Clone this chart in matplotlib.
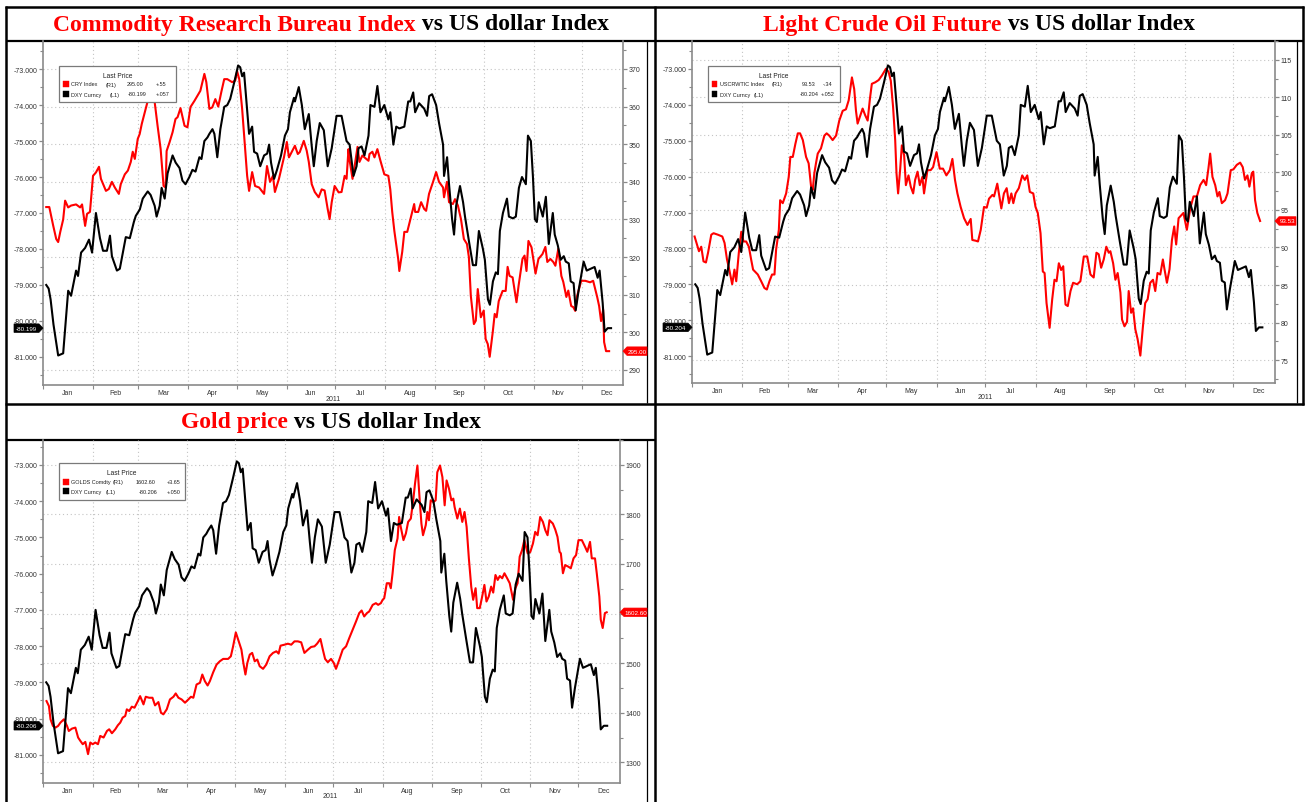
import matplotlib
matplotlib.use("Agg")
import matplotlib.pyplot as plt
from matplotlib.patches import Polygon, Rectangle
from matplotlib.lines import Line2D

plt.rcParams['font.family'] = ['Liberation Sans', 'DejaVu Sans']
plt.rcParams['axes.unicode_minus'] = False

W, H = 1305, 803

# ---------------- data (day of year 2011, Jan 1 = 0) ----------------
month_labels = ["Jan", "Feb", "Mar", "Apr", "May", "Jun",
                "Jul", "Aug", "Sep", "Oct", "Nov", "Dec"]
month_starts = [0, 31, 59, 90, 120, 151, 181, 212, 243, 273, 304, 334]
year_label = "2011"

dxy_ticks = [-73, -74, -75, -76, -77, -78, -79, -80, -81]

# DXY Curncy plotted as negative value (left axis)
dxy = [
    (2.0, -79.00), (3.5, -79.10), (4.7, -79.40), (6.5, -80.10), (9.4, -80.96), (12.5, -80.90),
    (15.6, -79.16), (17.4, -79.30), (20.5, -78.60), (21.7, -78.75), (23.6, -78.10),
    (26.1, -77.97), (28.5, -77.74), (30.4, -78.10), (32.8, -77.00), (35.3, -77.70),
    (37.2, -78.05), (39.6, -78.05), (41.5, -77.63), (42.7, -78.20), (45.8, -78.60),
    (47.6, -78.55), (51.3, -77.67), (53.8, -77.70), (56.3, -77.25), (57.5, -77.08),
    (60.0, -76.90), (61.8, -76.60), (64.9, -76.40), (66.7, -76.50), (69.2, -76.80),
    (70.4, -77.10), (72.3, -76.80), (73.5, -76.30), (75.4, -76.60), (77.2, -75.90),
    (80.3, -75.40), (82.2, -75.60), (84.6, -75.75), (86.4, -76.10), (88.3, -76.20),
    (90.7, -76.00), (92.6, -75.80), (94.5, -75.85), (96.9, -75.45), (98.2, -75.50),
    (100.0, -75.00), (101.9, -74.90), (103.1, -74.80), (105.0, -74.67), (106.2, -74.80),
    (108.0, -75.45), (109.9, -74.67), (112.3, -74.05), (114.2, -74.00), (116.0, -73.83),
    (118.5, -73.37), (120.9, -72.90), (122.2, -72.95), (123.4, -73.20), (124.6, -73.10),
    (125.9, -73.80), (127.7, -74.80), (129.6, -74.60), (130.8, -75.30), (132.7, -75.35),
    (134.6, -75.70), (137.0, -75.40), (138.9, -75.35), (140.1, -75.10), (141.3, -75.60),
    (143.2, -76.05), (145.0, -75.80), (147.5, -75.40), (149.9, -74.85), (151.8, -74.67),
    (153.0, -74.20), (155.5, -73.80), (156.1, -73.90), (158.5, -73.50), (160.4, -74.00),
    (162.2, -74.67), (164.7, -74.25), (166.5, -75.13), (167.8, -75.70), (169.6, -75.00),
    (171.5, -74.50), (174.0, -74.70), (176.4, -75.70), (178.9, -75.20), (181.9, -74.30),
    (185.0, -74.30), (188.1, -75.00), (190.0, -75.10), (192.4, -75.97), (194.3, -75.70),
    (195.5, -75.20), (197.4, -75.15), (199.2, -75.40), (201.7, -74.85), (202.9, -74.00),
    (205.4, -74.05), (207.2, -73.47), (209.1, -74.20), (211.5, -74.00), (214.0, -74.40),
    (215.2, -74.20), (217.1, -75.10), (218.9, -74.60), (220.8, -74.65), (223.9, -74.60),
    (226.3, -73.90), (227.6, -73.90), (229.4, -73.65), (230.6, -74.20), (233.1, -73.95),
    (236.2, -74.10), (238.0, -74.30), (239.3, -73.75), (241.1, -73.70), (243.6, -74.00),
    (245.4, -74.50), (247.9, -75.10), (248.5, -75.97), (250.4, -75.45), (251.6, -76.20),
    (253.5, -77.17), (254.7, -77.60), (256.0, -76.80), (258.4, -76.25), (260.3, -76.70),
    (261.5, -77.10), (264.0, -77.80), (266.4, -78.45), (268.3, -78.45), (270.1, -77.50),
    (272.6, -78.00), (273.8, -78.30), (275.7, -79.40), (276.9, -79.55), (278.8, -78.90),
    (280.6, -78.65), (281.9, -78.70), (283.1, -77.50), (285.0, -77.00), (287.5, -76.60),
    (288.7, -77.10), (291.2, -77.15), (293.0, -77.10), (294.9, -76.30), (296.8, -76.00),
    (298.0, -76.10), (299.2, -76.20), (300.5, -74.85), (302.3, -75.00), (303.6, -76.00),
    (304.8, -77.17), (306.0, -77.25), (307.2, -76.70), (309.7, -77.10), (311.6, -76.55),
    (313.4, -77.86), (315.9, -77.00), (317.1, -77.60), (319.0, -77.90), (320.8, -78.30),
    (322.7, -78.20), (323.9, -78.35), (325.8, -78.40), (327.0, -78.90), (328.8, -78.95),
    (330.1, -79.70), (331.9, -79.15), (333.8, -78.65), (335.0, -78.35), (336.9, -78.60),
    (339.4, -78.55), (341.8, -78.50), (343.7, -78.80), (344.9, -78.60), (346.8, -79.50),
    (348.0, -80.30), (349.9, -80.20), (352.0, -80.20),
]

# CRY Index (right axis, panel 1)
cry = [
    (2.0, 333.3), (3.9, 333.3), (5.7, 329.6), (6.3, 328.4), (8.2, 324.8), (9.4, 324.0),
    (10.7, 326.7), (12.5, 330.0), (13.7, 335.0), (15.6, 333.2), (17.4, 333.7), (20.5, 334.0),
    (23.0, 333.2), (24.2, 334.0), (26.1, 328.3), (27.3, 331.5), (29.1, 332.0), (31.0, 341.6),
    (32.8, 342.5), (34.7, 344.0), (35.9, 340.8), (39.0, 337.6), (40.8, 338.1), (42.7, 340.0),
    (44.5, 338.5), (47.0, 336.8), (48.2, 339.4), (50.7, 342.0), (52.6, 343.0), (54.4, 345.3),
    (55.6, 348.0), (56.9, 346.1), (58.7, 351.4), (59.9, 352.7), (61.2, 355.4), (63.6, 359.4),
    (65.5, 362.5), (67.3, 363.4), (69.2, 361.2), (71.0, 354.9), (72.9, 348.7), (74.7, 338.9),
    (76.0, 338.5), (76.6, 348.2), (78.4, 350.5), (80.3, 353.2), (82.1, 356.7), (83.4, 357.2),
    (85.2, 359.6), (87.7, 354.9), (89.5, 354.5), (91.4, 359.9), (93.8, 361.5), (95.7, 362.9),
    (97.5, 364.2), (100.0, 368.7), (101.2, 366.5), (103.1, 359.4), (104.9, 359.8), (106.8, 362.0),
    (108.6, 360.0), (110.5, 363.9), (112.3, 367.3), (114.2, 367.3), (117.2, 366.5), (119.1, 366.9),
    (120.3, 369.4), (121.6, 367.3), (123.4, 359.4), (125.3, 348.7), (126.5, 341.6), (127.7, 337.6),
    (129.6, 342.6), (131.4, 338.9), (133.9, 338.5), (137.0, 336.8), (138.8, 344.2), (140.7, 340.0),
    (142.5, 341.6), (143.7, 337.3), (146.2, 340.8), (149.3, 346.5), (151.1, 350.6), (152.4, 346.5),
    (154.2, 348.0), (156.1, 349.6), (157.9, 347.4), (159.1, 347.9), (161.6, 350.9), (163.4, 348.3),
    (164.7, 345.3), (166.5, 339.4), (168.4, 337.3), (170.8, 335.9), (172.7, 338.0), (174.5, 337.7),
    (176.4, 332.8), (177.6, 330.1), (178.9, 334.6), (180.7, 338.9), (183.2, 337.2), (185.0, 337.3),
    (186.9, 341.6), (188.1, 340.8), (189.3, 348.7), (189.9, 346.0), (191.8, 340.8), (193.0, 343.9),
    (194.9, 349.3), (196.1, 345.3), (197.9, 347.0), (199.2, 346.5), (201.7, 345.6), (202.3, 347.4),
    (204.1, 348.0), (205.4, 346.5), (207.2, 348.7), (209.1, 345.6), (211.5, 342.0), (214.0, 341.6),
    (215.2, 338.0), (216.4, 332.0), (217.7, 327.0), (220.1, 319.5), (220.8, 316.3), (222.6, 321.4),
    (223.9, 326.7), (225.7, 326.7), (228.2, 331.0), (230.0, 334.1), (230.6, 332.0), (232.5, 332.0),
    (234.3, 334.6), (236.2, 332.8), (237.4, 332.3), (239.2, 336.8), (241.7, 340.0), (243.6, 342.6),
    (245.4, 340.0), (247.9, 338.5), (248.5, 335.9), (250.3, 340.0), (251.6, 334.6), (254.0, 334.1),
    (255.3, 335.4), (257.1, 333.7), (259.0, 330.1), (260.8, 324.8), (262.7, 323.5), (263.9, 320.0),
    (265.1, 309.7), (267.0, 302.2), (268.2, 303.1), (269.4, 311.5), (271.3, 304.0), (273.1, 305.8),
    (274.3, 298.2), (275.6, 296.9), (276.8, 293.5), (278.7, 300.1), (279.9, 304.9), (281.1, 304.0),
    (282.4, 308.3), (284.8, 311.0), (286.7, 311.0), (287.9, 317.4), (289.1, 315.0), (291.0, 314.6),
    (293.4, 308.0), (294.7, 312.4), (297.1, 319.5), (298.4, 320.4), (299.6, 316.3), (300.8, 324.3),
    (302.7, 322.6), (305.2, 315.6), (307.0, 319.5), (309.5, 320.8), (311.3, 322.7), (312.5, 318.7),
    (314.4, 319.5), (316.2, 318.7), (317.5, 317.7), (319.3, 322.2), (321.2, 315.0), (322.4, 313.4),
    (324.3, 309.4), (325.5, 311.1), (327.3, 307.0), (328.6, 306.7), (329.8, 305.7), (331.0, 309.7),
    (333.5, 313.7), (336.0, 313.7), (339.0, 313.3), (340.9, 313.7), (343.4, 309.4), (344.6, 307.0),
    (345.8, 303.0), (347.1, 306.0), (347.7, 297.4), (348.9, 295.0), (350.8, 295.0),
]
cry_ticks = [290, 300, 310, 320, 330, 340, 350, 360, 370]

# USCRWTIC Index (right axis, panel 2)
wti = [
    (1.6, 91.46), (4.3, 89.5), (5.7, 90.1), (7.1, 88.15), (8.6, 88.0), (9.9, 89.3), (11.9, 91.7),
    (13.3, 91.9), (16.0, 91.7), (18.7, 91.46), (20.1, 90.6), (21.6, 88.4), (23.0, 87.05), (24.8, 85.1),
    (26.2, 87.05), (27.3, 85.5), (28.9, 89.3), (30.4, 92.1), (31.8, 90.8), (33.4, 90.8), (35.1, 90.1),
    (36.5, 88.4), (37.7, 87.05), (40.6, 86.4), (42.7, 85.5), (44.7, 84.6), (46.2, 84.4), (47.8, 85.5),
    (49.4, 86.4), (50.9, 86.4), (51.9, 89.7), (53.6, 92.35), (54.4, 96.3), (56.0, 95.9), (58.1, 97.2),
    (59.7, 99.4), (60.7, 102.06), (62.2, 102.06), (63.8, 103.8), (65.3, 105.2), (66.7, 105.2),
    (68.4, 104.3), (70.4, 102.06), (72.0, 101.2), (73.5, 98.1), (74.5, 97.65), (75.5, 99.86),
    (76.5, 101.2), (77.6, 102.5), (79.6, 103.2), (81.7, 104.9), (83.1, 105.2), (84.7, 104.9),
    (86.8, 104.3), (88.9, 104.9), (90.9, 106.9), (93.0, 108.2), (95.0, 108.4), (96.7, 109.6),
    (98.7, 112.65), (100.1, 111.1), (101.2, 108.2), (102.2, 106.5), (103.6, 107.4), (105.3, 108.5),
    (106.9, 107.6), (108.4, 106.9), (109.8, 109.8), (111.0, 111.8), (113.1, 112.0), (115.2, 112.3),
    (117.2, 112.9), (119.7, 113.8), (121.3, 113.4), (122.7, 112.2), (124.1, 108.7), (125.4, 104.3),
    (126.2, 99.9), (127.2, 97.2), (128.5, 100.5), (129.5, 103.6), (130.9, 102.3), (132.0, 98.3),
    (133.6, 99.6), (135.0, 98.1), (136.5, 97.2), (137.7, 99.0), (139.2, 100.1), (140.6, 98.3),
    (142.2, 99.4), (143.2, 97.2), (145.3, 100.3), (147.3, 100.3), (148.8, 100.7), (150.9, 102.7),
    (152.9, 100.5), (154.9, 100.5), (157.0, 99.6), (159.1, 100.3), (160.7, 101.8), (162.3, 99.0),
    (163.8, 97.2), (165.8, 95.4), (167.9, 93.9), (170.0, 93.0), (172.0, 93.8), (173.0, 91.0),
    (175.1, 90.9), (176.5, 90.8), (178.2, 92.35), (180.2, 95.4), (181.9, 95.3), (183.3, 96.5),
    (185.4, 97.0), (186.4, 96.8), (188.4, 98.5), (189.4, 97.2), (190.9, 95.2), (192.5, 97.2),
    (194.2, 97.9), (195.6, 95.9), (197.1, 97.2), (198.3, 95.9), (199.7, 97.2), (201.7, 97.9),
    (203.8, 99.6), (205.4, 99.0), (206.9, 99.6), (208.5, 97.4), (210.6, 97.2), (212.0, 95.4),
    (213.4, 94.6), (215.1, 91.9), (216.5, 86.8), (217.6, 86.6), (218.8, 82.6), (220.7, 79.3),
    (222.3, 83.1), (223.7, 85.7), (225.0, 85.5), (226.4, 87.9), (227.8, 87.0), (229.1, 87.5),
    (230.5, 82.4), (231.9, 82.2), (233.6, 84.2), (235.2, 85.3), (237.7, 85.1), (239.7, 85.5),
    (241.8, 88.8), (243.9, 88.8), (245.9, 86.4), (247.9, 86.0), (249.6, 89.3), (251.0, 89.1),
    (252.5, 87.3), (254.1, 88.4), (255.7, 90.1), (257.2, 89.3), (258.2, 89.5), (259.9, 87.9),
    (261.3, 85.7), (262.7, 86.6), (264.4, 84.0), (265.4, 80.4), (266.9, 79.5), (268.5, 80.1),
    (269.5, 84.2), (271.0, 81.3), (272.2, 81.9), (273.6, 79.1), (275.0, 77.8), (276.7, 75.6),
    (278.3, 79.5), (279.7, 82.6), (281.2, 83.1), (282.8, 85.3), (284.5, 85.7), (285.9, 84.2),
    (287.3, 86.6), (289.0, 86.4), (290.6, 88.4), (291.6, 87.1), (293.1, 85.3), (294.7, 87.1),
    (296.2, 91.0), (297.6, 92.8), (298.8, 90.4), (300.3, 93.9), (303.3, 94.6), (305.4, 92.35),
    (307.5, 95.2), (309.5, 96.8), (311.6, 96.8), (313.6, 98.3), (315.7, 99.0), (317.3, 98.3),
    (318.7, 100.5), (319.8, 102.5), (321.2, 99.4), (322.9, 98.3), (324.3, 96.8), (325.5, 97.4),
    (327.0, 95.9), (329.0, 96.3), (330.5, 97.2), (332.5, 100.3), (334.1, 100.4), (336.2, 101.0),
    (338.3, 101.3), (339.9, 100.7), (341.3, 99.0), (342.8, 99.6), (344.0, 98.1), (345.5, 99.9),
    (346.4, 100.1), (347.5, 96.3), (348.9, 94.6), (350.6, 93.53),
]
wti_ticks = [75, 80, 85, 90, 95, 100, 105, 110, 115]

# GOLDS Comdty (right axis, panel 3)
gold = [
    (2.2, 1423.6), (3.7, 1413.5), (4.7, 1386.8), (6.2, 1373.4), (7.8, 1370.1), (9.4, 1373.4),
    (10.9, 1380.2), (13.0, 1386.8), (15.0, 1373.4), (16.1, 1363.3), (18.1, 1368.1), (20.2, 1370.1),
    (21.9, 1350.1), (23.3, 1343.3), (24.8, 1336.6), (26.4, 1341.3), (28.1, 1316.6), (29.5, 1340.0),
    (31.0, 1336.6), (32.6, 1340.0), (34.3, 1336.6), (35.7, 1353.3), (37.8, 1350.1), (39.9, 1363.3),
    (41.3, 1366.7), (43.0, 1358.7), (45.1, 1366.7), (46.7, 1374.8), (48.2, 1380.2), (49.7, 1390.2),
    (51.3, 1393.5), (52.3, 1406.9), (53.8, 1403.5), (55.4, 1412.3), (57.1, 1410.2), (59.2, 1423.6),
    (60.6, 1433.6), (62.7, 1416.9), (64.1, 1432.3), (66.2, 1430.3), (68.3, 1430.3), (69.9, 1414.9),
    (72.0, 1421.6), (73.6, 1400.2), (75.1, 1396.8), (77.2, 1406.9), (79.2, 1426.9), (81.4, 1432.3),
    (82.8, 1439.0), (84.5, 1430.3), (86.5, 1426.9), (88.6, 1420.3), (90.7, 1426.9), (92.3, 1432.3),
    (93.8, 1430.3), (95.8, 1457.0), (97.9, 1460.4), (99.4, 1477.1), (101.0, 1463.7), (102.7, 1455.0),
    (104.1, 1463.7), (106.2, 1481.8), (108.3, 1497.2), (110.3, 1503.8), (112.4, 1508.6), (115.5, 1508.6),
    (117.2, 1513.9), (118.6, 1533.9), (120.3, 1562.0), (122.1, 1544.0), (123.8, 1527.3), (125.0, 1500.6),
    (126.3, 1477.1), (127.5, 1500.6), (129.0, 1517.3), (130.5, 1520.7), (132.1, 1503.8), (133.7, 1507.3),
    (135.2, 1493.8), (137.3, 1488.6), (139.3, 1497.2), (141.4, 1513.9), (143.5, 1520.7), (145.6, 1524.0),
    (147.0, 1519.3), (148.2, 1535.3), (150.7, 1537.3), (152.8, 1539.3), (154.9, 1537.3), (156.9, 1544.0),
    (159.0, 1544.0), (161.1, 1542.0), (163.1, 1520.7), (165.3, 1527.3), (167.3, 1532.7), (169.4, 1534.0),
    (171.0, 1539.3), (173.1, 1548.8), (174.6, 1527.3), (176.0, 1508.6), (177.7, 1501.9), (179.7, 1508.6),
    (181.4, 1500.6), (182.8, 1488.6), (184.9, 1507.3), (187.0, 1527.3), (189.1, 1534.0), (191.1, 1550.8),
    (193.2, 1567.4), (195.3, 1584.1), (197.3, 1601.0), (198.8, 1606.2), (200.4, 1594.2), (202.1, 1601.0),
    (203.5, 1604.2), (205.7, 1617.6), (207.7, 1621.0), (209.1, 1617.6), (210.8, 1621.0), (211.9, 1627.7),
    (212.9, 1631.0), (214.5, 1661.2), (216.0, 1661.2), (217.0, 1651.1), (218.1, 1681.3), (219.5, 1728.0),
    (221.2, 1751.5), (222.2, 1794.8), (223.2, 1774.8), (224.9, 1748.1), (226.4, 1761.5), (227.8, 1784.8),
    (229.5, 1791.6), (231.1, 1831.8), (232.1, 1861.9), (233.6, 1898.6), (234.9, 1835.0), (236.1, 1781.5),
    (237.1, 1758.0), (238.8, 1778.2), (239.8, 1804.9), (240.8, 1788.2), (241.9, 1828.4), (243.6, 1825.0),
    (245.0, 1828.4), (246.0, 1885.1), (247.7, 1898.6), (249.2, 1875.1), (250.6, 1818.3), (251.8, 1868.5),
    (253.3, 1851.8), (254.8, 1828.4), (256.0, 1831.8), (256.8, 1814.9), (258.5, 1791.6), (260.1, 1811.7),
    (261.6, 1784.8), (263.0, 1804.9), (264.3, 1774.8), (265.7, 1711.3), (267.2, 1653.7), (268.4, 1627.7),
    (269.9, 1651.1), (270.9, 1611.0), (272.5, 1611.0), (274.0, 1634.3), (275.4, 1657.8), (276.7, 1624.3),
    (278.1, 1634.3), (279.6, 1654.4), (280.9, 1642.3), (282.3, 1677.8), (283.7, 1667.8), (285.0, 1675.8),
    (286.5, 1671.2), (287.9, 1681.3), (289.6, 1671.2), (291.2, 1661.2), (293.3, 1627.7), (294.7, 1651.1),
    (296.1, 1661.2), (297.4, 1714.6), (298.9, 1728.0), (300.3, 1748.1), (302.4, 1721.4), (304.0, 1724.0),
    (305.7, 1741.4), (307.1, 1764.8), (308.6, 1758.0), (310.2, 1794.8), (311.9, 1784.8), (313.4, 1768.1),
    (314.8, 1758.0), (316.0, 1788.2), (318.1, 1781.5), (319.6, 1769.5), (321.0, 1754.7), (322.3, 1724.6),
    (323.1, 1721.4), (324.4, 1681.3), (325.8, 1697.9), (327.8, 1694.5), (329.3, 1691.3), (331.0, 1711.3),
    (332.6, 1718.0), (334.1, 1748.1), (336.2, 1748.1), (338.2, 1734.7), (339.6, 1724.6), (341.3, 1744.6),
    (342.4, 1711.3), (344.4, 1711.3), (345.5, 1681.3), (347.1, 1634.3), (348.0, 1587.5), (349.2, 1570.9),
    (350.6, 1601.0), (351.7, 1602.6),
]
gold_ticks = [1300, 1400, 1500, 1600, 1700, 1800, 1900]

titles = [("Commodity Research Bureau Index", " vs US dollar Index"),
          ("Light Crude Oil Future", " vs US dollar Index"),
          ("Gold price", " vs US dollar Index")]

legend_rows = [
    [("CRY Index", "(R1)", "295.00", "+.55"), ("DXY Curncy", "(L1)", "-80.199", "+.057")],
    [("USCRWTIC Index", "(R1)", "93.53", "-.34"), ("DXY Curncy", "(L1)", "-80.204", "+.052")],
    [("GOLDS Comdty", "(R1)", "1602.60", "+3.65"), ("DXY Curncy", "(L1)", "-80.206", "+.050")],
]
last_tags = [("-80.199", "295.00"), ("-80.204", "93.53"), ("-80.206", "1602.60")]

# ---------------- figure ----------------
RED = "#ff0000"
GRID = "#c4c4c4"
SPINE = "#8a8a8a"
TXT = "#333333"

fig = plt.figure(figsize=(W / 100, H / 100), dpi=100)
fig.patch.set_facecolor("white")


def fx(x):
    return x / W


def fy(y):
    return 1 - y / H


def hline(x0, x1, y, lw=1.5, color="black"):
    fig.add_artist(Line2D([fx(x0), fx(x1)], [fy(y), fy(y)], lw=lw, color=color,
                          transform=fig.transFigure, solid_capstyle="butt"))


def vline(x, y0, y1, lw=1.5, color="black"):
    fig.add_artist(Line2D([fx(x), fx(x)], [fy(y0), fy(y1)], lw=lw, color=color,
                          transform=fig.transFigure, solid_capstyle="butt"))


def ftext(x, y, s, **kw):
    return fig.text(fx(x), fy(y), s, **kw)


month_mids = [(month_starts[i] + (month_starts[i + 1] if i < 11 else 365)) / 2 for i in range(12)]


def make_panel(rect, xlim, ylim_l, ylim_r, rticks, rminor, rfmt, red_pts, hidden_rlabel=None):
    x0, y0, x1, y1 = rect
    axl = fig.add_axes([fx(x0), fy(y1), fx(x1) - fx(x0), fy(y0) - fy(y1)])
    axr = axl.twinx()
    axl.set_zorder(3)
    axr.set_zorder(2)
    axl.patch.set_visible(False)
    axr.patch.set_visible(False)

    for m in month_starts[1:]:
        axr.axvline(m, color=GRID, lw=0.8, ls=(0, (1, 2.5)), zorder=0)
    for t in rticks:
        axr.axhline(t, color=GRID, lw=0.8, ls=(0, (1, 2.5)), zorder=0)

    rd = [p[0] for p in red_pts]
    rv = [p[1] for p in red_pts]
    axr.plot(rd, rv, color=RED, lw=1.5, solid_joinstyle="round", zorder=3)
    dd = [p[0] for p in dxy]
    dv = [p[1] for p in dxy]
    axl.plot(dd, dv, color="black", lw=1.5, solid_joinstyle="round", zorder=3)

    axl.set_xlim(xlim)
    axl.set_ylim(ylim_l)
    axr.set_ylim(ylim_r)

    axl.set_yticks(dxy_ticks)
    axl.set_yticklabels([f"{v:.3f}" for v in dxy_ticks])
    axl.set_yticks([v - 0.5 for v in dxy_ticks] + [-72.5], minor=True)
    axr.set_yticks(rticks)
    axr.set_yticklabels(["" if v == hidden_rlabel else rfmt(v) for v in rticks])
    axr.set_yticks(rminor, minor=True)

    axl.set_xticks(month_starts)
    axl.set_xticklabels([])
    axl.set_xticks(month_mids, minor=True)
    axl.set_xticklabels(month_labels, minor=True)
    axl.tick_params(axis="x", which="minor", length=0, pad=3, labelsize=5, labelcolor=TXT)
    axl.tick_params(axis="x", which="major", length=3, width=0.8, color=SPINE, direction="out")
    axl.tick_params(axis="y", which="major", length=3, width=0.9, color=SPINE,
                    labelsize=5, labelcolor=TXT, pad=1)
    axl.tick_params(axis="y", which="minor", length=2, width=0.8, color=SPINE)
    axr.tick_params(axis="y", which="major", length=3, width=0.9, color=SPINE,
                    labelsize=5, labelcolor=TXT, pad=1)
    axr.tick_params(axis="y", which="minor", length=2, width=0.8, color=SPINE)

    for s in ["top", "right"]:
        axl.spines[s].set_visible(False)
    for s in ["top", "left", "bottom"]:
        axr.spines[s].set_visible(False)
    axl.spines["left"].set_color(SPINE)
    axl.spines["bottom"].set_color(SPINE)
    axr.spines["right"].set_color(SPINE)
    for sp in (axl.spines["left"], axl.spines["bottom"], axr.spines["right"]):
        sp.set_linewidth(1.2)
    return axl, axr


def to_px_y(ax, val):
    disp = ax.transData.transform((ax.get_xlim()[0], val))
    return H - disp[1]


def tag(xa, xb, ypx, text, color, point):
    h = 8.5
    if point == "right":
        pts = [(xa, ypx - h / 2), (xb - 4, ypx - h / 2), (xb, ypx), (xb - 4, ypx + h / 2), (xa, ypx + h / 2)]
        cx = (xa + xb - 4) / 2
    else:
        pts = [(xa, ypx), (xa + 4, ypx - h / 2), (xb, ypx - h / 2), (xb, ypx + h / 2), (xa + 4, ypx + h / 2)]
        cx = (xa + 4 + xb) / 2
    fig.add_artist(Polygon([(fx(a), fy(b)) for a, b in pts], closed=True, facecolor=color,
                           edgecolor=color, lw=0.5, transform=fig.transFigure, zorder=10))
    ftext(cx, ypx, text, color="white", fontsize=4.5, ha="center", va="center", zorder=11)


def legend_box(box, rows, cols, row_ys):
    x0, y0, x1, y1 = box
    fig.add_artist(Rectangle((fx(x0), fy(y1)), fx(x1) - fx(x0), fy(y0) - fy(y1),
                             facecolor="white", edgecolor="#7a7a7a", lw=0.9,
                             transform=fig.transFigure, zorder=9))
    ftext((x0 + x1) / 2 + 0, y0 + 10, "Last Price", fontsize=4.8, color="#222222",
          ha="center", va="center", zorder=11)
    colors = [RED, "black"]
    for r, (row, yy) in enumerate(zip(rows, row_ys)):
        fig.add_artist(Rectangle((fx(x0 + 4), fy(yy + 3)), fx(5.5), fy(0) - fy(6),
                                 facecolor=colors[r], edgecolor=colors[r], lw=0.3,
                                 transform=fig.transFigure, zorder=10))
        for cx, s in zip(cols[r], row):
            ftext(cx, yy, s, fontsize=4.0, color="#222222", ha="left", va="center", zorder=11)


def title(cx, cy, red_part, black_part, size=17):
    kw = dict(fontsize=size, fontweight="bold", family=["Liberation Serif", "DejaVu Serif"],
              va="center", ha="left")
    t1 = ftext(0, cy, red_part, color=RED, **kw)
    t2 = ftext(0, cy, black_part, color="black", **kw)
    r = fig.canvas.get_renderer()
    w1 = t1.get_window_extent(r).width
    w2 = t2.get_window_extent(r).width
    left = cx - (w1 + w2) / 2
    t1.set_position((fx(left), fy(cy)))
    t2.set_position((fx(left + w1), fy(cy)))


# ---- panel 1 : CRY ----
a1l, a1r = make_panel((43, 42, 623, 386), (2.0, 359.4), (-81.78, -72.22), (286.0, 377.44),
                      cry_ticks, [v + 5 for v in cry_ticks], lambda v: f"{v:d}", cry)
# ---- panel 2 : WTI ----
a2l, a2r = make_panel((692, 42, 1275, 384), (0.8, 359.8), (-81.75, -72.22), (71.95, 117.25),
                      wti_ticks, [72.5] + [v + 2.5 for v in wti_ticks], lambda v: f"{v:d}", wti)
# ---- panel 3 : Gold (the 1600 label sits under the last-price tag) ----
a3l, a3r = make_panel((43, 441, 620, 784), (1.4, 360.0), (-81.78, -72.31), (1258.4, 1946.8),
                      gold_ticks, [v + 50 for v in gold_ticks], lambda v: f"{v:d}", gold,
                      hidden_rlabel=1600)

# year labels
ftext(333, 400, year_label, fontsize=5, color=TXT, ha="center", va="center")
ftext(985, 398, year_label, fontsize=5, color=TXT, ha="center", va="center")
ftext(330, 797, year_label, fontsize=5, color=TXT, ha="center", va="center")

# legends
legend_box((59, 67, 176, 103), legend_rows[0],
           [(70.7, 106, 126.7, 156), (70.7, 110, 127.7, 156)], (85, 95))
legend_box((708, 67, 840, 103), legend_rows[1],
           [(720, 772, 801.7, 823), (720, 754, 800, 821)], (84.5, 95))
legend_box((59, 464, 185, 501), legend_rows[2],
           [(70.7, 113, 136, 166.7), (70.7, 106, 139, 166.7)], (482.7, 492.3))

# last value tags
tag(14, 43, to_px_y(a1l, dxy[-1][1]), last_tags[0][0], "black", "right")
tag(623, 647, to_px_y(a1r, cry[-1][1]), last_tags[0][1], RED, "left")
tag(663, 692, to_px_y(a2l, dxy[-1][1]), last_tags[1][0], "black", "right")
tag(1275, 1296, to_px_y(a2r, wti[-1][1]), last_tags[1][1], RED, "left")
tag(14, 43, to_px_y(a3l, dxy[-1][1]), last_tags[2][0], "black", "right")
tag(620, 647, to_px_y(a3r, gold[-1][1]), last_tags[2][1], RED, "left")

# titles
title(331, 25, *titles[0])
title(979, 25, *titles[1])
title(331, 423, *titles[2])

# table borders
hline(5, 1304, 8, lw=1.8)
hline(5, 1304, 405, lw=1.8)
vline(6, 7, 803, lw=1.8)
vline(655, 7, 803, lw=1.8)
vline(1302.5, 7, 406, lw=1.8)
hline(6, 655, 41.5, lw=1.6)
hline(655, 1303, 41.5, lw=1.6)
hline(6, 655, 440.5, lw=1.6)
vline(647, 41, 404, lw=0.9)
vline(1297, 41, 404, lw=0.9)
vline(647, 440, 803, lw=0.9)

fig.savefig("out.png", dpi=100)
